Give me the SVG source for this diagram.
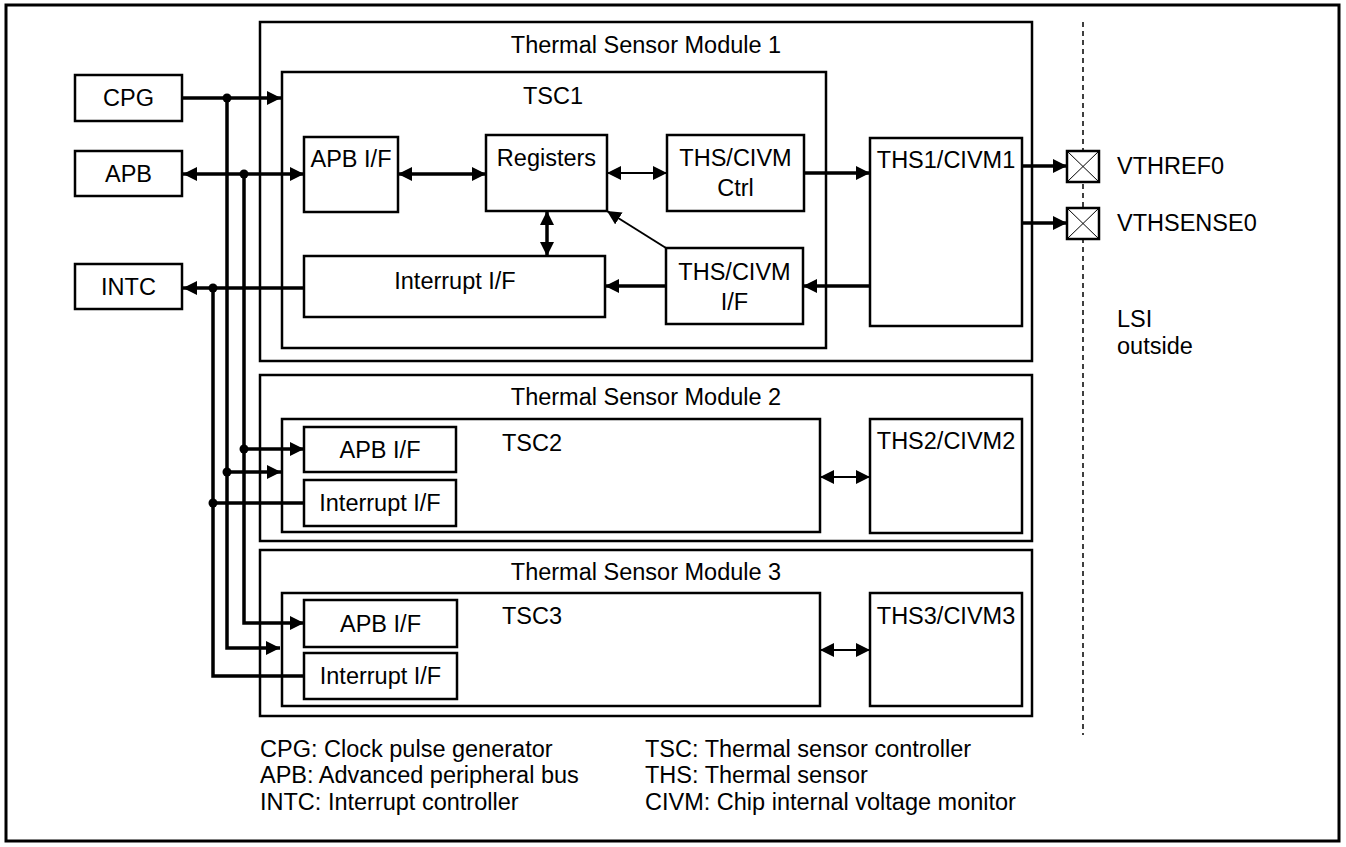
<svg xmlns="http://www.w3.org/2000/svg" width="1346" height="847" viewBox="0 0 1346 847">
<style>
text{font-family:"Liberation Sans",Arial,sans-serif;font-size:23.5px;fill:#000}
.b{fill:#fff;stroke:#000;stroke-width:2.5}
.m{fill:none;stroke:#000;stroke-width:2.5}
.w{fill:none;stroke:#000;stroke-width:3.5}
.t{fill:none;stroke:#000;stroke-width:2}
.x{stroke:#000;stroke-width:1}
.d{stroke:#000;stroke-width:1.5;stroke-dasharray:5,4}
.c{text-anchor:middle}
</style>
<defs>
<marker id="ah" viewBox="0 0 10 10" refX="10" refY="5" markerWidth="14" markerHeight="14" markerUnits="userSpaceOnUse" orient="auto-start-reverse"><path d="M0,0 L10,5 L0,10 z" fill="#000"/></marker>
</defs>
<rect x="6" y="5" width="1333" height="836" fill="#fff" stroke="#000" stroke-width="3"/>

<g id="lsi-boundary">
<line class="d" x1="1083" y1="22" x2="1083" y2="735"/>
<text x="1117" y="327">LSI</text>
<text x="1117" y="354">outside</text>
</g>

<g id="module1">
<rect class="m" x="260" y="22" width="772" height="339"/>
<text class="c" x="646" y="53">Thermal Sensor Module 1</text>
</g>
<g id="tsc1">
<rect class="m" x="282" y="72" width="544" height="276"/>
<text class="c" x="553" y="104">TSC1</text>
</g>
<g id="module2">
<rect class="m" x="260" y="375" width="772" height="166"/>
<text class="c" x="646" y="405">Thermal Sensor Module 2</text>
</g>
<g id="tsc2">
<rect class="m" x="282" y="419" width="538" height="113"/>
<text class="c" x="532" y="451">TSC2</text>
</g>
<g id="module3">
<rect class="m" x="260" y="550" width="772" height="166"/>
<text class="c" x="646" y="580">Thermal Sensor Module 3</text>
</g>
<g id="tsc3">
<rect class="m" x="282" y="593" width="538" height="113"/>
<text class="c" x="532" y="624">TSC3</text>
</g>

<g id="cpg"><rect class="b" x="75" y="75" width="107" height="46"/><text class="c" x="128.5" y="106">CPG</text></g>
<g id="apb"><rect class="b" x="75" y="151" width="107" height="45"/><text class="c" x="128.5" y="182">APB</text></g>
<g id="intc"><rect class="b" x="75" y="264" width="107" height="45"/><text class="c" x="128.5" y="295">INTC</text></g>

<g id="apbif1"><rect class="b" x="304" y="137" width="94" height="75"/><text class="c" x="351" y="167">APB I/F</text></g>
<g id="registers"><rect class="b" x="486" y="135" width="121" height="76"/><text class="c" x="546.5" y="166">Registers</text></g>
<g id="ctrl"><rect class="b" x="667" y="135" width="137" height="76"/><text class="c" x="735.5" y="166">THS/CIVM</text><text class="c" x="735.5" y="196">Ctrl</text></g>
<g id="intif1"><rect class="b" x="304" y="256" width="301" height="61"/><text class="c" x="455" y="289">Interrupt I/F</text></g>
<g id="thsif"><rect class="b" x="666" y="248" width="137" height="76"/><text class="c" x="734.5" y="280">THS/CIVM</text><text class="c" x="734.5" y="310">I/F</text></g>
<g id="ths1"><rect class="b" x="870" y="138" width="152" height="188"/><text class="c" x="946" y="168">THS1/CIVM1</text></g>

<g id="apbif2"><rect class="b" x="304" y="427" width="152" height="45"/><text class="c" x="380" y="458">APB I/F</text></g>
<g id="intif2"><rect class="b" x="304" y="480" width="152" height="46"/><text class="c" x="380" y="511">Interrupt I/F</text></g>
<g id="ths2"><rect class="b" x="870" y="419" width="152" height="114"/><text class="c" x="946" y="449">THS2/CIVM2</text></g>

<g id="apbif3"><rect class="b" x="304" y="600" width="153" height="47"/><text class="c" x="380.5" y="632">APB I/F</text></g>
<g id="intif3"><rect class="b" x="304" y="653" width="153" height="46"/><text class="c" x="380.5" y="684">Interrupt I/F</text></g>
<g id="ths3"><rect class="b" x="870" y="593" width="152" height="113"/><text class="c" x="946" y="624">THS3/CIVM3</text></g>

<g id="pad-vthref0"><rect class="b" x="1067" y="151" width="32" height="31"/><path class="x" d="M1067,151 L1099,182 M1099,151 L1067,182"/><text x="1117" y="174">VTHREF0</text></g>
<g id="pad-vthsense0"><rect class="b" x="1067" y="208" width="32" height="31"/><path class="x" d="M1067,208 L1099,239 M1099,208 L1067,239"/><text x="1117" y="231">VTHSENSE0</text></g>

<g id="connectors">
<polyline class="w" points="227,98 227,648 280,648" marker-end="url(#ah)"/>
<polyline class="w" points="244,174 244,623 304,623" marker-end="url(#ah)"/>
<polyline class="w" points="213,288 213,676 304,676"/>
<line class="w" x1="182" y1="98" x2="281" y2="98" marker-end="url(#ah)"/>
<line class="w" x1="183" y1="174" x2="304" y2="174" marker-start="url(#ah)" marker-end="url(#ah)"/>
<line class="w" x1="183" y1="288" x2="304" y2="288" marker-start="url(#ah)"/>
<line class="w" x1="244" y1="449" x2="304" y2="449" marker-end="url(#ah)"/>
<line class="w" x1="227" y1="472" x2="281" y2="472" marker-end="url(#ah)"/>
<line class="w" x1="213" y1="503" x2="304" y2="503"/>
<circle cx="227" cy="98" r="4.5"/>
<circle cx="244" cy="174" r="4.5"/>
<circle cx="213" cy="288" r="4.5"/>
<circle cx="244" cy="449" r="4.5"/>
<circle cx="227" cy="472" r="4.5"/>
<circle cx="213" cy="503" r="4.5"/>
<line class="w" x1="398" y1="174" x2="486" y2="174" marker-start="url(#ah)" marker-end="url(#ah)"/>
<line class="t" x1="607" y1="173" x2="667" y2="173" marker-start="url(#ah)" marker-end="url(#ah)"/>
<line class="w" x1="804" y1="173" x2="870" y2="173" marker-end="url(#ah)"/>
<line class="w" x1="547" y1="211" x2="547" y2="256" marker-start="url(#ah)" marker-end="url(#ah)"/>
<line class="t" x1="666" y1="248" x2="607" y2="211" marker-end="url(#ah)"/>
<line class="w" x1="666" y1="286" x2="605" y2="286" marker-end="url(#ah)"/>
<line class="w" x1="870" y1="286" x2="803" y2="286" marker-end="url(#ah)"/>
<line class="w" x1="1022" y1="166" x2="1067" y2="166" marker-end="url(#ah)"/>
<line class="w" x1="1022" y1="223" x2="1067" y2="223" marker-end="url(#ah)"/>
<line class="t" x1="820" y1="477" x2="870" y2="477" marker-start="url(#ah)" marker-end="url(#ah)"/>
<line class="t" x1="820" y1="650" x2="870" y2="650" marker-start="url(#ah)" marker-end="url(#ah)"/>
</g>

<g id="legend">
<text x="260" y="757">CPG: Clock pulse generator</text>
<text x="260" y="783">APB: Advanced peripheral bus</text>
<text x="260" y="810">INTC: Interrupt controller</text>
<text x="645" y="757">TSC: Thermal sensor controller</text>
<text x="645" y="783">THS: Thermal sensor</text>
<text x="645" y="810">CIVM: Chip internal voltage monitor</text>
</g>
</svg>
